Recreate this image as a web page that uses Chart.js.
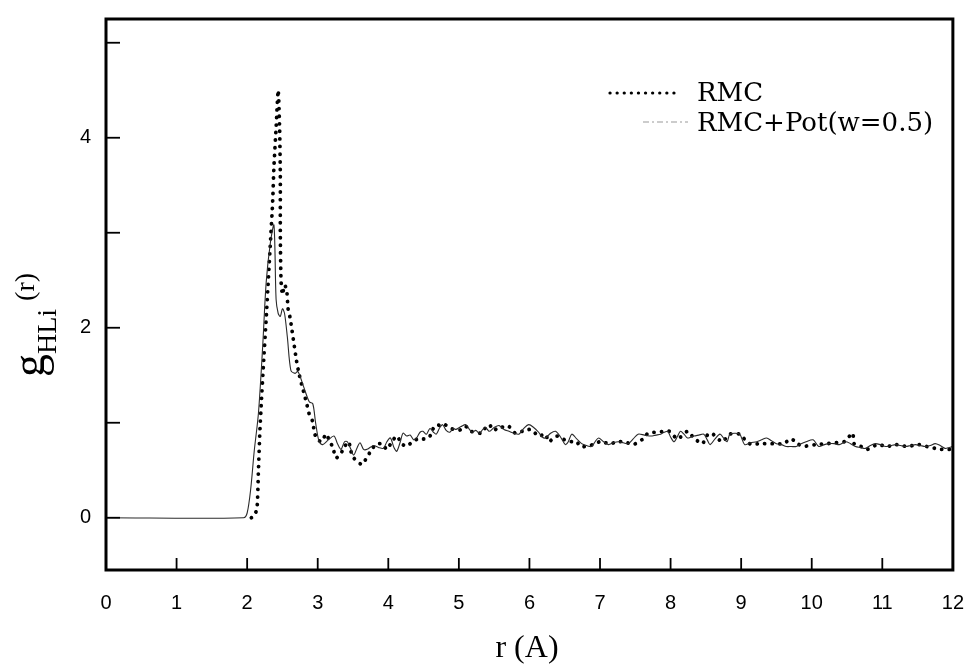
<!DOCTYPE html>
<html>
<head>
<meta charset="utf-8">
<script src="https://cdn.jsdelivr.net/npm/chart.js@4.4.1/dist/chart.umd.min.js"></script>
<style>
  html, body { margin: 0; padding: 0; background: #fff; }
  #wrap { width: 977px; height: 667px; }
</style>
</head>
<body>
<div id="wrap"><canvas id="gChart" width="977" height="667"></canvas></div>
<script>
// RMC+Pot(w=0.5): solid thin line
let rPot = [0, 1.95, 2.0, 2.05, 2.1, 2.16, 2.22, 2.27, 2.33, 2.38, 2.41, 2.44, 2.47, 2.50, 2.53, 2.57, 2.62, 2.68, 2.72, 2.8,
  2.88, 2.93, 2.97, 3.02, 3.07, 3.15, 3.23, 3.28, 3.33, 3.38, 3.42, 3.47, 3.51, 3.56, 3.6, 3.65, 3.7, 3.79, 3.86, 3.93,
  3.98, 4.03, 4.08, 4.12, 4.17, 4.21, 4.26, 4.31, 4.36, 4.4, 4.45, 4.49, 4.54, 4.59, 4.64, 4.68, 4.73, 4.77, 4.82, 4.87,
  4.92, 4.96, 5.03, 5.1, 5.15, 5.19, 5.24, 5.29, 5.34, 5.38, 5.43, 5.5, 5.57, 5.64, 5.71, 5.78, 5.85, 5.92, 5.99, 6.06,
  6.13, 6.18, 6.23, 6.3, 6.37, 6.44, 6.51, 6.55, 6.6, 6.67, 6.74, 6.81, 6.88, 6.93, 6.98, 7.05, 7.12, 7.19, 7.26, 7.33,
  7.4, 7.47, 7.54, 7.63, 7.72, 7.79, 7.86, 7.91, 7.96, 8.0, 8.05, 8.1, 8.14, 8.19, 8.24, 8.29, 8.33, 8.4, 8.47, 8.52,
  8.56, 8.63, 8.7, 8.75, 8.8, 8.84, 8.91, 8.98, 9.05, 9.13, 9.22, 9.29, 9.36, 9.43, 9.5, 9.57, 9.64, 9.71, 9.78, 9.85,
  9.92, 10.02, 10.1, 10.18, 10.25, 10.32, 10.39, 10.48, 10.55, 10.62, 10.69, 10.76, 10.83, 10.9, 10.97, 11.05, 11.12, 11.19, 11.26, 11.33,
  11.4, 11.47, 11.54, 11.61, 11.68, 11.75, 11.82, 11.89, 11.95, 12.0];
let gPot = [0, 0, 0.05, 0.3, 0.7, 1.1, 1.8, 2.48, 2.9, 3.08, 2.3, 2.15, 2.12, 2.2, 2.15, 1.9, 1.55, 1.52, 1.54, 1.38,
  1.22, 1.2, 1.0, 0.8, 0.77, 0.82, 0.86, 0.78, 0.72, 0.8, 0.8, 0.72, 0.66, 0.74, 0.79, 0.72, 0.72, 0.76, 0.74, 0.73,
  0.8, 0.84, 0.74, 0.7, 0.8, 0.89, 0.86, 0.87, 0.82, 0.84, 0.9, 0.91, 0.88, 0.94, 0.9, 0.88, 0.95, 0.98, 0.92, 0.9,
  0.94, 0.93, 0.96, 0.98, 0.93, 0.9, 0.92, 0.89, 0.93, 0.95, 0.91, 0.95, 0.97, 0.93, 0.91, 0.89, 0.88, 0.94, 0.98, 0.95,
  0.9, 0.85, 0.84, 0.89, 0.91, 0.85, 0.77, 0.8, 0.88, 0.83, 0.78, 0.76, 0.75, 0.8, 0.84, 0.8, 0.77, 0.79, 0.8, 0.79,
  0.78, 0.83, 0.88, 0.87, 0.86, 0.87, 0.88, 0.9, 0.91, 0.85, 0.8, 0.86, 0.91, 0.88, 0.84, 0.85, 0.86, 0.87, 0.88, 0.82,
  0.77, 0.83, 0.88, 0.84, 0.8, 0.88, 0.89, 0.88, 0.77, 0.79, 0.8, 0.82, 0.84, 0.81, 0.78, 0.77, 0.75, 0.75, 0.75, 0.78,
  0.8, 0.82, 0.75, 0.77, 0.78, 0.78, 0.77, 0.8, 0.78, 0.75, 0.74, 0.73, 0.76, 0.78, 0.77, 0.75, 0.76, 0.77, 0.76, 0.75,
  0.76, 0.77, 0.76, 0.75, 0.76, 0.78, 0.76, 0.73, 0.74, 0.75];

// RMC: dotted line
let rRmc = [2.06, 2.1, 2.14, 2.16, 2.18, 2.2, 2.23, 2.27, 2.3, 2.33, 2.36, 2.38, 2.41, 2.44, 2.46, 2.47, 2.47, 2.48, 2.5, 2.53,
  2.56, 2.58, 2.61, 2.63, 2.66, 2.7, 2.74, 2.78, 2.81, 2.85, 2.88, 2.93, 2.95, 2.98, 3.05, 3.12, 3.17, 3.21, 3.26, 3.33,
  3.39, 3.44, 3.47, 3.51, 3.58, 3.63, 3.7, 3.75, 3.82, 3.91, 3.98, 4.05, 4.12, 4.19, 4.26, 4.34, 4.42, 4.52, 4.59, 4.63,
  4.68, 4.74, 4.8, 4.89, 4.97, 5.05, 5.1, 5.17, 5.24, 5.31, 5.37, 5.43, 5.5, 5.57, 5.64, 5.71, 5.8, 5.9, 6.02, 6.13,
  6.23, 6.27, 6.39, 6.5, 6.6, 6.67, 6.72, 6.81, 6.9, 7.0, 7.14, 7.26, 7.35, 7.47, 7.61, 7.68, 7.8, 7.91, 7.98, 8.1,
  8.24, 8.33, 8.45, 8.53, 8.6, 8.73, 8.84, 8.98, 9.08, 9.15, 9.25, 9.36, 9.47, 9.6, 9.71, 9.8, 9.87, 9.96, 10.06, 10.22,
  10.35, 10.46, 10.58, 10.6, 10.7, 10.79, 10.93, 11.07, 11.19, 11.35, 11.51, 11.63, 11.75, 11.84, 11.98];
let gRmc = [0, 0.02, 0.1, 0.5, 0.9, 1.2, 1.6, 2.1, 2.5, 2.9, 3.3, 3.7, 4.1, 4.5, 4.1, 3.6, 3.0, 2.5, 2.35, 2.45,
  2.4, 2.2, 2.1, 2.0, 1.85, 1.65, 1.5, 1.38, 1.3, 1.18, 1.09, 1.01, 0.91, 0.84, 0.8, 0.88, 0.8, 0.75, 0.63, 0.68,
  0.76, 0.8, 0.7, 0.63, 0.58, 0.56, 0.64, 0.7, 0.77, 0.78, 0.72, 0.8, 0.86, 0.78, 0.75, 0.8, 0.83, 0.83, 0.86, 0.93,
  0.98, 0.97, 0.98, 0.94, 0.92, 0.93, 0.96, 0.91, 0.9, 0.89, 0.94, 0.98, 0.92, 0.96, 0.95, 0.96, 0.89, 0.91, 0.93, 0.86,
  0.88, 0.8, 0.86, 0.82, 0.8, 0.8, 0.75, 0.75, 0.77, 0.8, 0.78, 0.8, 0.8, 0.77, 0.83, 0.89, 0.9, 0.91, 0.91, 0.83,
  0.91, 0.84, 0.78, 0.88, 0.88, 0.8, 0.88, 0.88, 0.8, 0.77, 0.78, 0.78, 0.78, 0.78, 0.83, 0.78, 0.75, 0.76, 0.77, 0.78,
  0.79, 0.8, 0.89, 0.78, 0.75, 0.72, 0.77, 0.75, 0.77, 0.75, 0.77, 0.75, 0.73, 0.72, 0.72];

let xTickVals = [0, 1, 2, 3, 4, 5, 6, 7, 8, 9, 10, 11, 12];
let yTickVals = [0, 1, 2, 3, 4, 5];
let yLabelVals = [0, 2, 4];

let toPoints = (xs, ys) => xs.map((x, i) => ({ x: x, y: ys[i] }));

// frame, inward ticks, legend and axis titles
let framePlugin = {
  id: 'frame',
  afterDatasetsDraw(chart) {
    let ctx = chart.ctx, a = chart.chartArea;
    let xs = chart.scales.x, ys = chart.scales.y;
    ctx.save();
    ctx.strokeStyle = '#000';
    ctx.lineWidth = 1.8;
    xTickVals.forEach(v => {
      let px = xs.getPixelForValue(v);
      ctx.beginPath(); ctx.moveTo(px, a.bottom); ctx.lineTo(px, a.bottom - 12); ctx.stroke();
    });
    yTickVals.forEach(v => {
      let py = ys.getPixelForValue(v);
      ctx.beginPath(); ctx.moveTo(a.left, py); ctx.lineTo(a.left + 14, py); ctx.stroke();
    });
    ctx.lineWidth = 3;
    ctx.strokeRect(a.left, a.top, a.right - a.left, a.bottom - a.top);

    // legend
    ctx.lineCap = 'round';
    ctx.setLineDash([0.1, 7]);
    ctx.lineWidth = 3.2;
    ctx.beginPath(); ctx.moveTo(610, 93); ctx.lineTo(680, 93); ctx.stroke();
    ctx.lineCap = 'butt';
    ctx.setLineDash([6, 3, 2, 3]);
    ctx.lineWidth = 1;
    ctx.strokeStyle = '#999';
    ctx.beginPath(); ctx.moveTo(643, 122); ctx.lineTo(688, 122); ctx.stroke();
    ctx.setLineDash([]);
    ctx.fillStyle = '#000';
    ctx.textBaseline = 'alphabetic';
    ctx.textAlign = 'left';
    ctx.font = '100px "DejaVu Serif"';
    let fs = Math.round(100 * 235 / ctx.measureText('RMC+Pot(w=0.5)').width);
    ctx.font = fs + 'px "DejaVu Serif"';
    ctx.fillText('RMC', 697, 101);
    ctx.fillText('RMC+Pot(w=0.5)', 697, 131);

    // x title
    ctx.font = '32px "Liberation Serif"';
    ctx.textAlign = 'center';
    ctx.fillText('r (A)', 527, 657);

    // y title g_HLi (r), rotated
    ctx.translate(44, 377);
    ctx.rotate(-Math.PI / 2);
    ctx.textAlign = 'left';
    ctx.font = '46px "Liberation Serif"';
    ctx.fillText('g', 0, 0);
    let w = ctx.measureText('g').width;
    ctx.font = '28px "Liberation Serif"';
    ctx.fillText('HLi', w, 12);
    let w2 = ctx.measureText('HLi').width;
    ctx.font = '28px "Liberation Serif"';
    ctx.fillText('(r)', w + w2 + 8, -10);
    ctx.restore();
  }
};

let gChart = new Chart(document.getElementById('gChart'), {
  type: 'scatter',
  data: {
    datasets: [{
      label: 'RMC+Pot(w=0.5)',
      data: toPoints(rPot, gPot),
      showLine: true,
      borderColor: '#2a2a2a',
      borderWidth: 1.1,
      pointRadius: 0,
      tension: 0.3
    }, {
      label: 'RMC',
      data: toPoints(rRmc, gRmc),
      showLine: true,
      borderColor: '#000',
      borderWidth: 3.8,
      borderDash: [0.1, 7.5],
      borderCapStyle: 'round',
      pointRadius: 0,
      tension: 0.2
    }]
  },
  options: {
    responsive: false,
    animation: false,
    layout: { padding: { left: 0, right: 19, top: 15, bottom: 0 } },
    plugins: { legend: { display: false }, tooltip: { enabled: false } },
    scales: {
      x: {
        type: 'linear',
        min: 0, max: 12,
        grid: { display: false },
        border: { display: false },
        ticks: {
          stepSize: 1,
          padding: 13,
          color: '#000',
          maxRotation: 0,
          font: { family: '"Liberation Sans"', size: 20 }
        },
        afterFit: s => { s.height = 97; }
      },
      y: {
        min: -0.55, max: 5.25,
        grid: { display: false },
        border: { display: false },
        ticks: {
          stepSize: 1,
          padding: 7,
          color: '#000',
          font: { family: '"Liberation Sans"', size: 20 },
          callback: v => yLabelVals.includes(v) ? String(v) : ''
        },
        afterFit: s => { s.width = 106; }
      }
    }
  },
  plugins: [framePlugin]
});
</script>
</body>
</html>
